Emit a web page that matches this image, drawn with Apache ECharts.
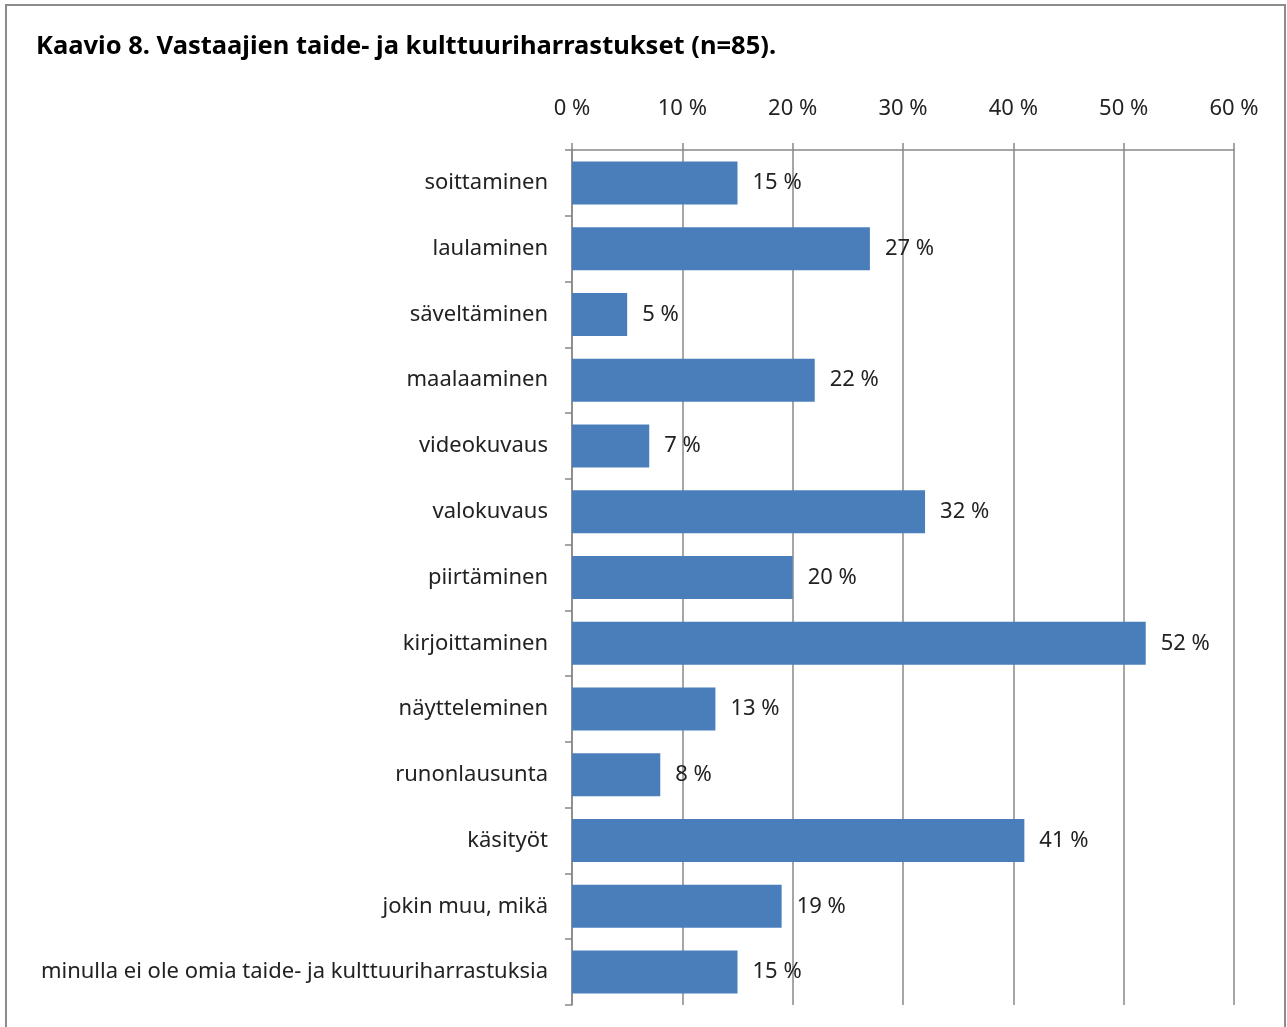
<!DOCTYPE html>
<html>
<head>
<meta charset="utf-8">
<script src="https://cdn.jsdelivr.net/npm/echarts@6/dist/echarts.min.js"></script>
<style>
  html, body { margin: 0; padding: 0; background: #fff; }
  #frame { position: absolute; left: 5px; top: 4px; width: 1277px; height: 1100px; border: 2px solid #8c8c8c; }
  #chart { position: absolute; left: 0; top: 0; width: 1287px; height: 1027px; }
</style>
</head>
<body>
<div id="frame"></div>
<div id="chart"></div>
<script>
// kategoriat ja osuudet (%)
const categories = [
  'soittaminen', 'laulaminen', 'säveltäminen', 'maalaaminen', 'videokuvaus',
  'valokuvaus', 'piirtäminen', 'kirjoittaminen', 'näytteleminen', 'runonlausunta',
  'käsityöt', 'jokin muu, mikä', 'minulla ei ole omia taide- ja kulttuuriharrastuksia'
];
const values = [15, 27, 5, 22, 7, 32, 20, 52, 13, 8, 41, 19, 15];
const axisMax = 60;
const axisStep = 10;

const font = 'Noto Sans';
const myChart = echarts.init(document.getElementById('chart'));

const option = {
  title: {
    text: 'Kaavio 8. Vastaajien taide- ja kulttuuriharrastukset (n=85).',
    left: 31,
    top: 29,
    textStyle: { fontFamily: font, fontSize: 25.5, fontWeight: 'bold', color: '#000' },
  },
  grid: { left: 572, right: 53, top: 150, bottom: 22 },
  xAxis: {
    type: 'value',
    position: 'top',
    min: 0,
    max: axisMax,
    interval: axisStep,
    axisLine: { show: true, lineStyle: { color: '#888', width: 1.5 } },
    axisTick: { show: true, length: 7, lineStyle: { color: '#888', width: 1.5 } },
    splitLine: { show: true, lineStyle: { color: '#888', width: 1.5 } },
    axisLabel: {
      margin: 30,
      formatter: '{value} %',
      fontFamily: font,
      fontSize: 22,
      color: '#222',
    },
  },
  yAxis: {
    type: 'category',
    inverse: true,
    data: categories,
    axisLine: { show: true, lineStyle: { color: '#888', width: 1.5 } },
    axisTick: { show: true, length: 7, lineStyle: { color: '#888', width: 1.5 } },
    axisLabel: {
      margin: 24,
      fontFamily: font,
      fontSize: 22,
      color: '#222',
    },
  },
  series: [{
    type: 'bar',
    data: values,
    barWidth: 43,
    itemStyle: { color: '#4a7ebb' },
    label: {
      show: true,
      position: 'right',
      distance: 15,
      formatter: '{c} %',
      fontFamily: font,
      fontSize: 22,
      color: '#222',
    },
    silent: true,
  }],
  animation: false,
};

myChart.setOption(option);
</script>
</body>
</html>
